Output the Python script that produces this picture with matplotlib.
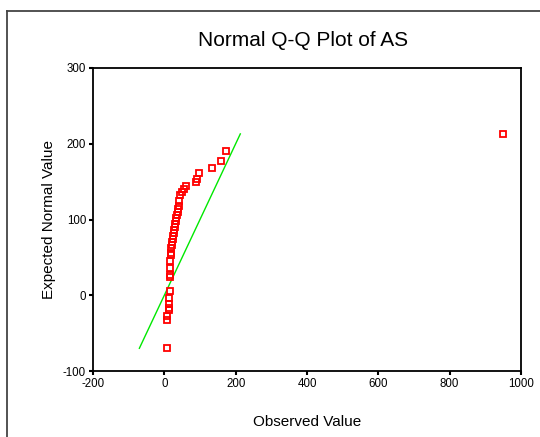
import matplotlib
matplotlib.use("Agg")
import matplotlib.pyplot as plt
from matplotlib.lines import Line2D

plt.rcParams['font.family'] = ['Liberation Sans', 'DejaVu Sans']
plt.rcParams['axes.unicode_minus'] = False

observed = [7, 8, 8, 12, 13, 13, 13, 15, 15, 15, 17, 17, 19, 19,
            20, 21, 22, 24, 25, 27, 28, 30, 31, 33, 34, 36, 37, 39, 40,
            42, 45, 50, 55, 62, 90, 92, 96, 134, 160, 174, 950]
expected = [-70, -33, -28, -20, -17, -12, -4, 6, 24, 27, 36, 45, 53, 56,
            62, 66, 70, 74, 78, 82, 86, 90, 94, 98, 102, 106, 110, 114, 118,
            124, 132, 136, 140, 144, 149, 154, 161, 168, 177, 191, 213]
ref_line = [-70, 213]

x_ticks = [-200, 0, 200, 400, 600, 800, 1000]
y_ticks = [-100, 0, 100, 200, 300]

fig = plt.figure(figsize=(5.40, 4.37), dpi=100)
ax = fig.add_axes([93/540, 1-371/437, (521-93)/540, (371-68)/437])

ax.plot(ref_line, ref_line, color='#00e800', lw=1.0, zorder=2)
ax.plot(observed, expected, linestyle='none', marker='s', ms=4.5,
        mfc='none', mec='red', mew=1.3, zorder=3)

ax.set_xlim(-200, 1000)
ax.set_ylim(-100, 300)
ax.set_xticks(x_ticks)
ax.set_yticks(y_ticks)
ax.tick_params(direction='out', length=3, width=1.5, labelsize=8.3, pad=2)
for s in ax.spines.values():
    s.set_linewidth(1.3)
    s.set_color('black')

ax.set_xlabel('Observed Value', fontsize=11, labelpad=18)
ax.set_ylabel('Expected Normal Value', fontsize=11, labelpad=5)

fig.text(303/540, 1-40/437, 'Normal Q-Q Plot of AS', fontsize=15,
         ha='center', va='center')

# outer frame lines
fig.add_artist(Line2D([6.5/540, 6.5/540], [0, 1-11/437], transform=fig.transFigure,
                      color='#444444', lw=1.3))
fig.add_artist(Line2D([6.5/540, 1], [1-11/437, 1-11/437], transform=fig.transFigure,
                      color='#444444', lw=1.3))

fig.savefig('out.png', dpi=100)
